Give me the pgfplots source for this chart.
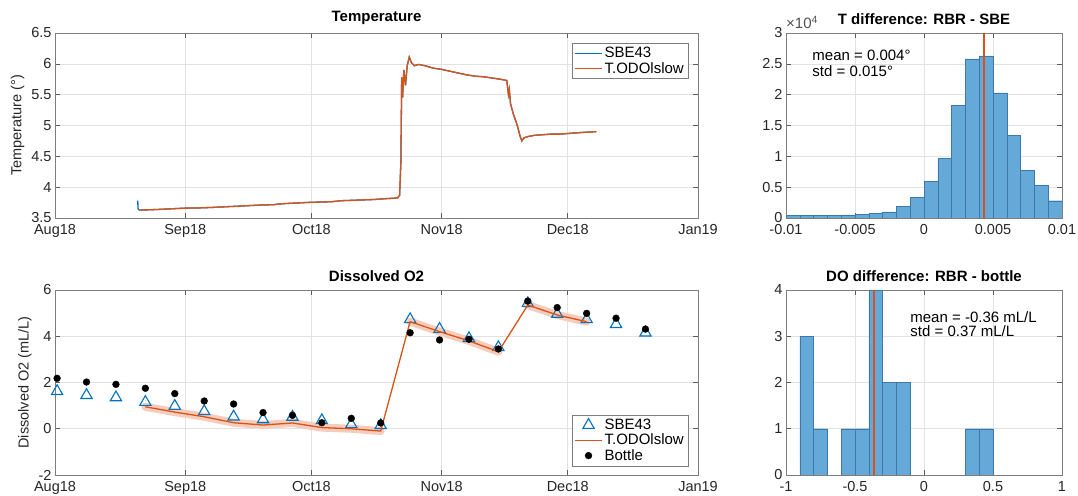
\documentclass[border=0pt]{standalone}
\usepackage{pgfplots}
\pgfplotsset{compat=1.18}
\usepackage{fontspec}
\setmainfont{Liberation Sans}
\definecolor{mblue}{RGB}{0,114,189}
\definecolor{morange}{RGB}{217,83,25}
\definecolor{mband}{RGB}{246,205,188}
\definecolor{hfill}{RGB}{100,169,215}
\definecolor{hedge}{RGB}{62,120,170}
\definecolor{axgray}{RGB}{38,38,38}
\definecolor{gridgray}{RGB}{226,226,226}
\pgfplotsset{
  mstyle/.style={
    scale only axis,
    clip mode=individual,
    axis line style={draw=axgray!60, line width=0.6pt},
    tick style={draw=axgray!75, line width=0.5pt},
    major tick length=5pt,
    tick align=inside,
    grid=major,
    major grid style={draw=gridgray, line width=0.5pt},
    ticklabel style={font=\fontsize{14.5}{16}\selectfont, text=axgray},
    xticklabel style={yshift=-2.5pt},
    /pgf/number format/assume math mode=true,
    scaled ticks=false,
    label style={font=\fontsize{14.5}{16}\selectfont, text=axgray},
    title style={font=\fontsize{15}{17}\selectfont\bfseries, yshift=-1pt},
    legend style={font=\fontsize{15}{17.5}\selectfont, draw=axgray!60, fill=white, inner sep=2pt, row sep=-1pt, cells={anchor=west}},
    legend image code/.code={\draw[mark repeat=2,mark phase=2,#1] plot coordinates {(0pt,0pt) (13.5pt,0pt) (27pt,0pt)};},
  },
  dateaxis/.style={
    xmin=0, xmax=153,
    xtick={0,31,61,92,122,153},
    xticklabels={Aug18,Sep18,Oct18,Nov18,Dec18,Jan19},
  },
  bluelegend/.style={legend image code/.code={\draw[draw=mblue, line width=1.2pt] (0pt,0pt) -- (27pt,0pt);}},
  orangelegend/.style={legend image code/.code={\draw[draw=morange, line width=1.2pt] (0pt,0pt) -- (27pt,0pt);}},
}
\pgfplotstableread{
d T
20.0 3.63
22 3.632
25 3.64
28 3.65
31 3.66
34 3.663
37 3.67
40 3.68
43 3.69
46 3.70
49 3.71
52 3.715
53 3.725
55 3.735
58 3.745
61 3.755
64 3.76
66 3.765
68 3.78
70 3.785
72 3.79
76 3.80
79 3.815
81.5 3.825
82.0 3.87
82.3 4.40
82.5 5.78
82.7 5.45
83.0 5.90
83.4 5.65
83.8 5.97
84.3 6.11
84.8 6.02
85.5 5.97
86.5 5.99
88 5.97
90 5.93
92 5.91
94 5.88
96 5.85
98 5.82
100 5.80
102 5.79
104 5.77
106 5.75
107.5 5.73
107.9 5.50
108.1 5.58
108.4 5.35
109 5.20
110 5.00
110.7 4.82
111.1 4.75
111.6 4.80
112.5 4.82
114 4.84
116 4.85
118 4.86
120 4.86
122 4.87
124 4.88
126 4.89
128.8 4.90
}\temptab
\pgfplotstableread{
d sbe bottle
0.5 1.62 2.18
7.5 1.45 2.02
14.5 1.35 1.92
21.5 1.15 1.75
28.5 0.98 1.52
35.5 0.75 1.20
42.5 0.52 1.07
49.5 0.40 0.70
56.5 0.51 0.58
63.5 0.36 0.26
70.5 0.19 0.45
77.5 0.15 0.25
84.5 4.73 4.15
91.5 4.31 3.84
98.5 3.91 3.87
105.5 3.52 3.45
112.5 5.42 5.52
119.5 4.96 5.24
126.5 4.73 4.99
133.5 4.52 4.78
140.5 4.15 4.31
}\dotab
\pgfplotstableread{
d o
21.5 0.95
28.5 0.72
35.5 0.52
42.5 0.26
49.5 0.16
56.5 0.25
63.5 0.05
70.5 0.00
77.5 -0.10
84.5 4.63
91.5 4.20
98.5 3.80
105.5 3.33
112.5 5.35
119.5 4.92
126.5 4.63
}\odotab
\begin{document}
\begin{tikzpicture}[x=1pt,y=1pt]
\useasboundingbox (0,0) rectangle (1078,495);
% Temperature
\begin{axis}[mstyle, dateaxis, at={(55pt,277pt)}, anchor=south west, width=643pt, height=185pt,
  ymin=3.5, ymax=6.5, ytick={3.5,4,4.5,5,5.5,6,6.5},
  title={Temperature}, ylabel={Temperature (°)},
  legend style={at={(1,1)}, anchor=north east, xshift=-10pt, yshift=-10pt}]
\addplot[draw=mblue, line width=1.3pt, bluelegend] coordinates {(19.7,3.78) (19.75,3.65) (20,3.63)};
\addplot[draw=mblue, line width=1.3pt, forget plot] table[x=d,y=T] {\temptab};
\addplot[draw=morange, line width=1.3pt, orangelegend] table[x=d,y=T] {\temptab};
\legend{SBE43,T.ODOlslow}
\end{axis}
% DO
\begin{axis}[mstyle, dateaxis, at={(55pt,20pt)}, anchor=south west, width=643pt, height=185pt,
  ymin=-2, ymax=6, ytick={-2,0,2,4,6},
  title={Dissolved O2}, ylabel={Dissolved O2 (mL/L)},
  legend style={at={(1,0)}, anchor=south east, xshift=-10pt, yshift=9pt}]
\addplot[draw=mband, line width=8pt, line join=round, line cap=round, forget plot] coordinates {(21.5,0.95) (28.5,0.72) (35.5,0.52) (42.5,0.26) (49.5,0.16) (56.5,0.25) (63.5,0.05) (70.5,0.00) (77.5,-0.10)};
\addplot[draw=mband, line width=8pt, line join=round, line cap=round, forget plot] coordinates {(84.5,4.63) (91.5,4.20) (98.5,3.80) (105.5,3.33)};
\addplot[draw=mband, line width=8pt, line join=round, line cap=round, forget plot] coordinates {(112.5,5.35) (119.5,4.92) (126.5,4.63)};
\addplot[only marks, mark=triangle, mark size=6.5pt, mblue, mark options={draw=mblue, line width=1.1pt}] table[x=d,y=sbe] {\dotab};
\addplot[draw=morange, line width=1.3pt, orangelegend] table[x=d,y=o] {\odotab};
\addplot[only marks, mark=*, mark size=3.4pt, black, mark options={draw=black, fill=black}] table[x=d,y=bottle] {\dotab};
\legend{SBE43,T.ODOlslow,Bottle}
\end{axis}
% T hist
\begin{axis}[mstyle, at={(786pt,277pt)}, anchor=south west, width=276pt, height=185pt,
  xmin=-0.01, xmax=0.01, xtick={-0.01,-0.005,0,0.005,0.01},
  xticklabels={-0.01,-0.005,0,0.005,0.01},
  ymin=0, ymax=3, ytick={0,0.5,1,1.5,2,2.5,3},
  title={T difference: RBR - SBE}]
\addplot[ybar interval, fill=hfill, draw=hedge, line width=0.4pt] coordinates {
(-0.010,0.043) (-0.009,0.040) (-0.008,0.040) (-0.007,0.045) (-0.006,0.050)
(-0.005,0.058) (-0.004,0.075) (-0.003,0.100) (-0.002,0.19) (-0.001,0.33)
(0.000,0.59) (0.001,0.97) (0.002,1.83) (0.003,2.58) (0.004,2.63)
(0.005,2.03) (0.006,1.34) (0.007,0.77) (0.008,0.53) (0.009,0.28) (0.010,0.28)};
\addplot[draw=morange, line width=2.2pt] coordinates {(0.00433,0) (0.00433,3)};
\node[anchor=west, inner sep=0pt, font=\fontsize{15}{17}\selectfont] at (axis cs:-0.0081,2.64) {mean = 0.004°};
\node[anchor=west, inner sep=0pt, font=\fontsize{15}{17}\selectfont] at (axis cs:-0.0081,2.38) {std = 0.015°};
\node[anchor=south west, inner sep=0pt, font=\fontsize{15}{16}\selectfont, text=axgray!80] at (rel axis cs:0,1) [yshift=4pt] {×10\textsuperscript{4}};
\end{axis}
% DO hist
\begin{axis}[mstyle, at={(786pt,20pt)}, anchor=south west, width=276pt, height=185pt,
  xmin=-1, xmax=1, xtick={-1,-0.5,0,0.5,1},
  ymin=0, ymax=4, ytick={0,1,2,3,4},
  title={DO difference: RBR - bottle}]
\addplot[ybar interval, fill=hfill, draw=hedge, line width=0.4pt] coordinates {(-0.9,3) (-0.8,1) (-0.7,1)};
\addplot[ybar interval, fill=hfill, draw=hedge, line width=0.4pt] coordinates {(-0.6,1) (-0.5,1) (-0.4,4) (-0.3,2) (-0.2,2) (-0.1,2)};
\addplot[ybar interval, fill=hfill, draw=hedge, line width=0.4pt] coordinates {(0.3,1) (0.4,1) (0.5,1)};
\addplot[draw=morange, line width=2.2pt] coordinates {(-0.36,0) (-0.36,4)};
\node[anchor=west, inner sep=0pt, font=\fontsize{15}{17}\selectfont] at (axis cs:-0.10,3.42) {mean = -0.36 mL/L};
\node[anchor=west, inner sep=0pt, font=\fontsize{15}{17}\selectfont] at (axis cs:-0.10,3.10) {std = 0.37 mL/L};
\end{axis}
\end{tikzpicture}
\end{document}
